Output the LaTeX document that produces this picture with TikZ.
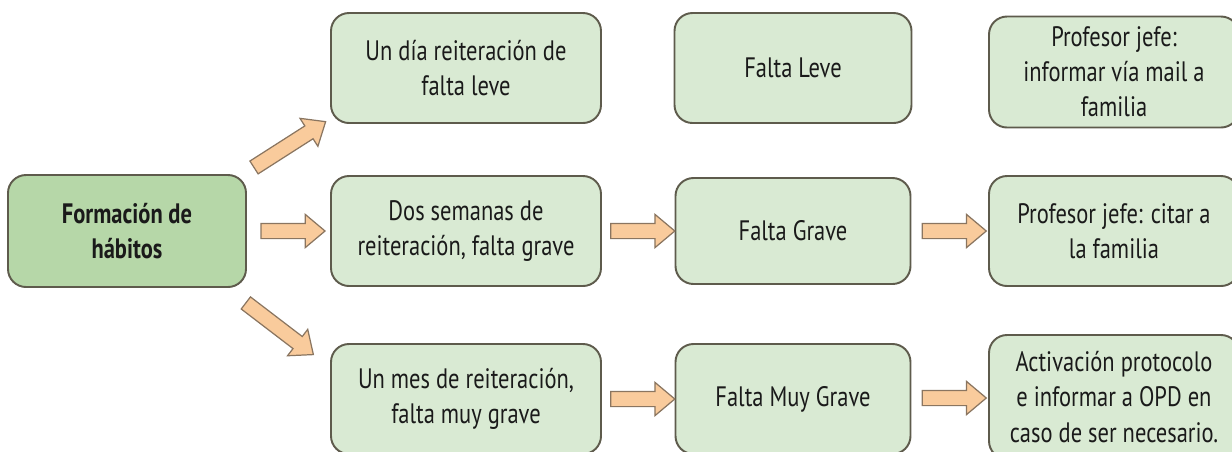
\documentclass[tikz,border=0pt]{standalone}
\usepackage{fontspec}
\setmainfont{PT Sans}[FakeStretch=0.8]
\usetikzlibrary{shapes.arrows, calc}
\definecolor{boxfill}{HTML}{D9EAD3}
\definecolor{mainfill}{HTML}{B6D7A8}
\definecolor{boxline}{HTML}{5E5B4C}
\definecolor{arrowfill}{HTML}{F9CB9C}
\definecolor{arrowline}{HTML}{8A7560}
\definecolor{textcol}{HTML}{1A1A1A}

\begin{document}
\begin{tikzpicture}[
    box/.style={draw=boxline, line width=1.1pt, fill=boxfill, rounded corners=0.36cm, text=textcol, align=center, inner sep=0pt, minimum height=2.2cm, font=\fontsize{16}{20}\selectfont},
    mainbox/.style={box, fill=mainfill, font=\fontsize{16}{20}\selectfont\bfseries},
    fat/.style={draw=arrowline, line width=0.7pt, fill=arrowfill, single arrow, single arrow head extend=0.18cm, single arrow tip angle=80, single arrow head indent=0pt, inner xsep=0pt, inner ysep=0.14cm, minimum height=1.28cm}
  ]
    \useasboundingbox (0,0) rectangle (24.64,-9.02);
    \clip (0,0) rectangle (24.64,-9.02);

    % Nodes
    \node (habitos) [mainbox, minimum width=4.76cm, minimum height=2.24cm] at (2.54,-4.62) {Formación de\\hábitos};
    \node (dos) [box, minimum width=5.4cm, right of=habitos, node distance=6.78cm] {Dos semanas de\\reiteración, falta grave};
    \node (dia) [box, minimum width=5.4cm, above of=dos, node distance=3.26cm] {Un día reiteración de\\falta leve};
    \node (mes) [box, minimum width=5.4cm, below of=dos, node distance=3.36cm] {Un mes de reiteración,\\falta muy grave};
    \node (grave) [box, minimum width=4.7cm, minimum height=2.12cm, right of=dos, node distance=6.54cm] {Falta Grave};
    \node (leve) [box, minimum width=4.74cm, above of=grave, node distance=3.26cm] {Falta Leve};
    \node (muygrave) [box, minimum width=4.7cm, below of=grave, node distance=3.36cm] {Falta Muy Grave};
    \node (citar) [box, minimum width=5cm, right of=grave, node distance=6.42cm] {Profesor jefe: citar a\\la familia};
    \node (informar) [box, minimum width=5cm, minimum height=2.22cm, above of=citar, node distance=3.18cm] {Profesor jefe:\\informar vía mail a\\familia};
    \node (activacion) [box, minimum width=5cm, minimum height=2.48cm, below of=citar, node distance=3.32cm] {Activación protocolo\\e informar a OPD en\\caso de ser necesario.};

    % Arrows
    \node (a1) [fat] at ($(habitos.east)!0.5!(dos.west)$) {};
    \node (a2) [fat] at ($(dos.east)!0.5!(grave.west)$) {};
    \node (a3) [fat] at ($(grave.east)!0.5!(citar.west)$) {};
    \node (a4) [fat] at ($(mes.east)!0.5!(muygrave.west)$) {};
    \node (a5) [fat] at ($(muygrave.east)!0.5!(activacion.west)$) {};
    \node (a6) [fat, minimum height=1.7cm, rotate=32.6] at ($(habitos.north east)!0.5!(dia.south west)+(-0.05,0.04)$) {};
    \node (a7) [fat, minimum height=1.7cm, rotate=-37.4] at ($(habitos.south east)!0.5!(mes.north west)+(-0.25,-0.21)$) {};
\end{tikzpicture}
\end{document}
